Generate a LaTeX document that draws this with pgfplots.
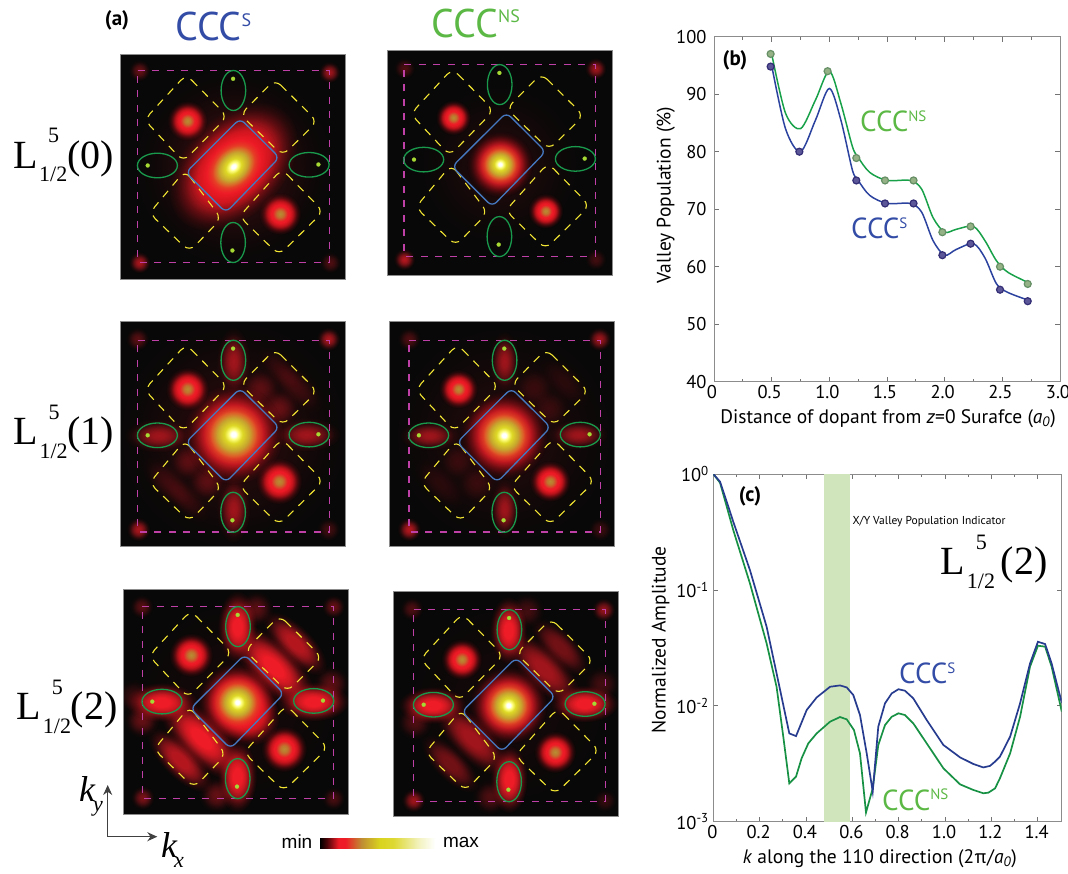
\documentclass[border=0pt]{standalone}
\usepackage{fontspec}
\usepackage{pgfplots}
\usepackage{pgfplotstable}
\pgfplotsset{compat=1.18}
\usetikzlibrary{fadings,arrows.meta}
\setmainfont{PT Sans}
\newfontfamily\tms{Liberation Serif}
\newfontfamily\arial{Liberation Sans}
\definecolor{cS}{rgb}{.2,.3,.65}
\definecolor{cNS}{rgb}{.36,.72,.27}
\definecolor{lS}{rgb}{.17,.26,.62}
\definecolor{lNS}{rgb}{.1,.63,.29}
\definecolor{hred}{rgb}{.93,.11,.15}
\definecolor{h1}{rgb}{1,1,.5}
\definecolor{h2}{rgb}{.87,.85,.15}
\definecolor{h3}{rgb}{.78,.65,.18}
\definecolor{h4}{rgb}{.9,.25,.15}
\definecolor{h5}{rgb}{.8,.06,.1}
\definecolor{h6}{rgb}{.5,.02,.04}
\definecolor{s1}{rgb}{.72,.55,.2}
\definecolor{s2}{rgb}{.75,.45,.18}
\definecolor{s3}{rgb}{.9,.08,.12}
\definecolor{s4}{rgb}{.5,.03,.05}
\definecolor{r1}{rgb}{.7,.05,.08}
\definecolor{b1}{rgb}{.3,.02,.03}
\definecolor{b2}{rgb}{.75,.55,.2}
\definecolor{b3}{rgb}{.85,.83,.12}
\definecolor{b4}{rgb}{.87,.85,.2}
\definecolor{b5}{rgb}{.95,.95,.75}
\definecolor{cmag}{rgb}{.75,.25,.65}
\definecolor{cyel}{rgb}{.95,.9,.2}
\definecolor{cblu}{rgb}{.27,.47,.75}
\definecolor{cgrn}{rgb}{.1,.6,.3}
\definecolor{cdot}{rgb}{.65,.85,.2}
\definecolor{mNSf}{rgb}{.58,.7,.52}
\definecolor{mNSd}{rgb}{.4,.56,.4}
\definecolor{mSf}{rgb}{.36,.34,.6}
\definecolor{mSd}{rgb}{.2,.18,.46}
\definecolor{band}{rgb}{.82,.9,.74}
\pgfdeclareradialshading{hotS}{\pgfpointorigin}{color(0bp)=(white);color(1.2bp)=(white);color(2.5bp)=(h1);color(4.5bp)=(h2);color(8bp)=(h3);color(12bp)=(h4);color(15bp)=(hred);color(20bp)=(h5);color(25bp)=(h6);color(50bp)=(h6)}
\pgfdeclareradialshading{sideS}{\pgfpointorigin}{color(0bp)=(s1);color(4bp)=(s2);color(9bp)=(hred);color(16bp)=(s3);color(25bp)=(s4);color(50bp)=(s4)}
\pgfdeclareradialshading{redS}{\pgfpointorigin}{color(0bp)=(hred);color(14bp)=(hred);color(25bp)=(r1);color(50bp)=(r1)}
\pgfdeclareradialshading{fadePs}{\pgfpointorigin}{color(0bp)=(pgftransparent!0);color(11bp)=(pgftransparent!0);color(14bp)=(pgftransparent!15);color(16.5bp)=(pgftransparent!37);color(19bp)=(pgftransparent!62);color(22bp)=(pgftransparent!86);color(25bp)=(pgftransparent!100);color(50bp)=(pgftransparent!100)}
\pgfdeclarefading{fadeP}{\pgfuseshading{fadePs}}
\pgfdeclareradialshading{fadeMs}{\pgfpointorigin}{color(0bp)=(pgftransparent!0);color(6bp)=(pgftransparent!0);color(10bp)=(pgftransparent!15);color(14bp)=(pgftransparent!40);color(18bp)=(pgftransparent!68);color(22bp)=(pgftransparent!90);color(25bp)=(pgftransparent!100);color(50bp)=(pgftransparent!100)}
\pgfdeclarefading{fadeM}{\pgfuseshading{fadeMs}}
\pgfdeclareradialshading{fadeGs}{\pgfpointorigin}{color(0bp)=(pgftransparent!0);color(5bp)=(pgftransparent!8);color(10bp)=(pgftransparent!30);color(15bp)=(pgftransparent!60);color(20bp)=(pgftransparent!88);color(25bp)=(pgftransparent!100);color(50bp)=(pgftransparent!100)}
\pgfdeclarefading{fadeG}{\pgfuseshading{fadeGs}}
\pgfdeclarehorizontalshading{hotbar}{100bp}{color(0bp)=(black);color(25bp)=(black);color(28bp)=(b1);color(33bp)=(hred);color(36bp)=(hred);color(43bp)=(b2);color(51bp)=(b3);color(57bp)=(b4);color(68bp)=(b5);color(75bp)=(white);color(100bp)=(white)}
\pgfdeclareplotmark{hot}{\pgflowlevelsynccm\path[shade,shading=hotS,path fading=fadeP] (0pt,0pt) circle (\pgfplotmarksize);}
\pgfdeclareplotmark{side}{\pgflowlevelsynccm\path[shade,shading=sideS,path fading=fadeP] (0pt,0pt) circle (\pgfplotmarksize);}
\pgfdeclareplotmark{redb}{\pgflowlevelsynccm\path[shade,shading=redS,path fading=fadeP] (0pt,0pt) circle (\pgfplotmarksize);}
\pgfdeclareplotmark{redm}{\pgflowlevelsynccm\path[shade,shading=redS,path fading=fadeM] (0pt,0pt) circle (\pgfplotmarksize);}
\pgfdeclareplotmark{redg}{\pgflowlevelsynccm\path[shade,shading=redS,path fading=fadeG] (0pt,0pt) circle (\pgfplotmarksize);}
\pgfdeclareplotmark{ellV}{\pgfpathellipse{\pgfpointorigin}{\pgfqpoint{12.3pt}{0pt}}{\pgfqpoint{0pt}{20pt}}\pgfusepathqstroke}
\pgfdeclareplotmark{ellH}{\pgfpathellipse{\pgfpointorigin}{\pgfqpoint{20pt}{0pt}}{\pgfqpoint{0pt}{12.3pt}}\pgfusepathqstroke}
\newcommand\blob[5][]{\addplot[only marks,mark=#2,mark size=#5,mark options={#1}] coordinates {(#3,#4)};}
\pgfplotsset{
 panel/.style={scale only axis,width=225pt,height=225pt,anchor=south west,
  xmin=0,xmax=225,ymin=0,ymax=225,y dir=reverse,ticks=none,axis on top,
  axis line style={draw=black!45,line width=.7pt},clip marker paths=true,
  axis background/.style={fill=black!97}},
 ovl/.style={scale only axis,width=225pt,height=225pt,anchor=south west,
  xmin=0,xmax=225,ymin=0,ymax=225,y dir=reverse,hide axis,clip=false},
 chart/.style={scale only axis,anchor=south west,tick align=inside,
  axis line style={draw=black!45,line width=.8pt},
  tick style={draw=black!55,line width=.7pt},major tick length=5pt,minor tick length=3pt,
  tick label style={font=\fontsize{18.5}{18.5}\selectfont},
  label style={font=\fontsize{19.5}{19.5}\selectfont,inner sep=0pt},
  clip=true}
}
\pgfplotstableread{
x y
17.3 16
208.7 16
208.7 207.7
17.3 207.7
}\tmag
\pgfplotstableread{
x y
119.7 64
159 103
105.5 158
65.5 118
}\tblu
\pgfplotstableread{
x y
65.7 20
107 62
63 107
24 65.3
}\yTL
\pgfplotstableread{
x y
154.7 25
197 67
162.3 101
120 60
}\yTR
\pgfplotstableread{
x y
64.7 116
101 164
69 197
29 158.7
}\yBL
\pgfplotstableread{
x y
161.3 114.5
203 157
158.7 200.5
119 162
}\yBR
\newcommand\ovlay[2]{%
\begin{axis}[ovl,at={(#1pt,#2pt)}]
 \addplot[line width=1.2pt,color=cmag,dash pattern=on 7pt off 7.5pt,no marks] table {\tmag} -- cycle;
 \addplot[line width=1.1pt,color=cyel,rounded corners=8pt,dash pattern=on 8pt off 7pt,no marks] table {\yTL} -- cycle;
 \addplot[line width=1.1pt,color=cyel,rounded corners=8pt,dash pattern=on 8pt off 7pt,no marks] table {\yTR} -- cycle;
 \addplot[line width=1.1pt,color=cyel,rounded corners=8pt,dash pattern=on 8pt off 7pt,no marks] table {\yBL} -- cycle;
 \addplot[line width=1.1pt,color=cyel,rounded corners=8pt,dash pattern=on 8pt off 7pt,no marks] table {\yBR} -- cycle;
 \addplot[line width=1.3pt,color=cblu,rounded corners=6pt,no marks] table {\tblu} -- cycle;
 \addplot[only marks,mark=ellV,mark options={draw=cgrn,line width=1.3pt}] coordinates {(113,36)(112.7,188)};
 \addplot[only marks,mark=ellH,mark options={draw=cgrn,line width=1.3pt}] coordinates {(37,111)(188.7,110.3)};
 \addplot[only marks,mark=*,mark size=2pt,mark options={draw=cdot,fill=cdot,line width=.2pt}] coordinates {(112.7,24.3)(112,196)(27.3,111)(198,110)};
\end{axis}}
\newcommand\Lab[2][0pt]{{\tms\fontsize{40}{40}\selectfont L\kern1.6pt\rlap{\raisebox{25.3pt}{\kern9pt\fontsize{22}{22}\selectfont 5}}\raisebox{-13.4pt}{\fontsize{22}{22}\selectfont 1/2}\kern-.3pt\kern#1(#2)}}
\newcommand\CCC[3][52]{{\fontsize{#2}{#2}\selectfont CCC\raisebox{.36em}{\fontsize{\numexpr#2*#1/100\relax}{10}\selectfont #3}}}
\newcommand\fs[1]{\fontsize{#1}{#1}\selectfont}
\begin{document}
\begin{tikzpicture}[x=1pt,y=1pt]
\path[use as bounding box] (0,0) rectangle (1068,873);
% ---------- P1
\begin{axis}[panel,at={(120.4pt,593.5pt)}]
 \blob[opacity=.2]{redg}{113}{112}{105}
 \blob[opacity=.4]{redg}{19}{16}{11}\blob[opacity=.65]{redg}{209}{17.7}{11}\blob[opacity=.7]{redg}{19}{208}{11}\blob[opacity=.3]{redg}{209.7}{208}{11}
 \blob{side}{67}{66.3}{20}\blob{side}{159.7}{159.3}{21}
 \blob[rotate=45,yscale=.66]{redb}{113}{112}{76}
 \blob[rotate=45,yscale=.75]{hot}{113}{112}{50}
\end{axis}
\ovlay{120.4}{593.5}
% ---------- P2
\begin{axis}[panel,at={(387.3pt,597.7pt)}]
 \blob[opacity=.1]{redg}{112}{114}{90}
 \blob[opacity=.3]{redg}{17}{18}{11}\blob[opacity=.65]{redg}{208.3}{18.3}{11}\blob[opacity=.75]{redg}{17}{209}{11}\blob[opacity=.25]{redg}{208.3}{209}{11}
 \blob{side}{66}{67.3}{17.5}\blob{side}{158.3}{160.7}{17.5}
 \blob{hot}{112.7}{114}{33}
\end{axis}
\ovlay{386.7}{599.4}
% ---------- P3
\begin{axis}[panel,at={(120.4pt,326.7pt)}]
 \blob[opacity=.14]{redg}{113}{113}{125}
 \blob[opacity=.35]{redg}{17}{17.7}{12}\blob[opacity=.7]{redg}{208}{17.7}{12}\blob[opacity=.7]{redg}{18}{208}{12}\blob[opacity=.25]{redg}{208}{208}{12}
 \blob[opacity=.3]{redg}{139.7}{66.7}{20}\blob[opacity=.35]{redg}{158.7}{86.7}{20}\blob[rotate=-45,yscale=.5,opacity=.2]{redg}{176}{65}{34}\blob[rotate=-45,yscale=.5,opacity=.15]{redg}{160}{48}{30}
 \blob[opacity=.3]{redg}{86.3}{160}{20}\blob[opacity=.3]{redg}{67}{140}{19}\blob[rotate=-45,yscale=.5,opacity=.2]{redg}{48}{161.7}{34}\blob[rotate=-45,yscale=.5,opacity=.15]{redg}{66}{178}{30}
 \blob[rotate=90,yscale=.5,opacity=.65]{redg}{113}{40}{34}\blob[rotate=90,yscale=.5,opacity=.65]{redg}{113}{188}{34}
 \blob[yscale=.5,opacity=.65]{redg}{38}{114.3}{34}\blob[yscale=.5,opacity=.65]{redg}{186.3}{113.3}{34}
 \blob{side}{67}{67.7}{21.5}\blob{side}{158.7}{160}{23}
 \blob{hot}{113}{113}{50}
\end{axis}
\ovlay{120.4}{323.7}
% ---------- P4
\begin{axis}[panel,at={(389.3pt,326.7pt)}]
 \blob[opacity=.1]{redg}{114}{114}{125}
 \blob[opacity=.3]{redg}{19.7}{17.7}{12}\blob[opacity=.65]{redg}{210}{17.7}{12}\blob[opacity=.75]{redg}{19.7}{208}{12}\blob[opacity=.22]{redg}{210.7}{208}{12}
 \blob[opacity=.16]{redg}{145}{66}{20}\blob[opacity=.16]{redg}{160}{87}{20}\blob[rotate=-45,yscale=.5,opacity=.12]{redg}{175}{60}{34}
 \blob[opacity=.16]{redg}{87}{162}{20}\blob[opacity=.16]{redg}{68}{140}{19}\blob[rotate=-45,yscale=.5,opacity=.12]{redg}{50}{162}{34}
 \blob[rotate=90,yscale=.5,opacity=.65]{redg}{115}{40}{30}\blob[rotate=90,yscale=.5,opacity=.65]{redg}{115}{187.7}{30}
 \blob[yscale=.5,opacity=.65]{redg}{40}{114.3}{30}\blob[yscale=.5,opacity=.65]{redg}{189}{113.3}{30}
 \blob{side}{69}{67.7}{19.5}\blob{side}{160.7}{160}{20.5}
 \blob{hot}{114.7}{114}{44}
\end{axis}
\ovlay{391.6}{323.7}
% ---------- P5
\begin{axis}[panel,at={(123.3pt,58.7pt)}]
 \blob[opacity=.06]{redg}{113}{113}{125}
 \blob[opacity=.35]{redg}{18.3}{17.3}{12}\blob[opacity=.4]{redg}{210}{17.3}{12}\blob[opacity=.5]{redg}{19.3}{208.3}{12}\blob[opacity=.28]{redg}{210}{209}{12}
 \blob[opacity=.35]{redg}{208}{94}{18}\blob[opacity=.4]{redg}{18.3}{130.7}{18}\blob[opacity=.35]{redg}{132.7}{19}{18}\blob[opacity=.4]{redg}{93.3}{205.7}{18}\blob[opacity=.2]{redg}{10}{107}{18}
 \blob[rotate=-45,yscale=.42,opacity=.75]{redm}{171.7}{54}{42}\blob[rotate=-45,yscale=.42,opacity=.75]{redm}{56.7}{170.7}{42}
 \blob[rotate=-45,yscale=.44]{redm}{150}{77.3}{54}\blob[rotate=-45,yscale=.44]{redm}{78}{149}{54}
 \blob[rotate=90,yscale=.55]{redm}{114}{37.3}{36}\blob[rotate=90,yscale=.55]{redm}{114}{187.3}{36}
 \blob[yscale=.55]{redm}{38.3}{113}{36}\blob[yscale=.55]{redm}{190}{112.3}{36}
 \blob{side}{67.7}{65.7}{22}\blob{side}{160.7}{159.7}{23}
 \blob[rotate=-45,yscale=.8]{redb}{120}{120}{40}
 \blob{hot}{114}{113}{40}
\end{axis}
\ovlay{125}{57.4}
% ---------- P6
\begin{axis}[panel,at={(393.7pt,57pt)}]
 \blob[opacity=.05]{redg}{113}{113}{125}
 \blob[opacity=.3]{redg}{18}{17.7}{12}\blob[opacity=.6]{redg}{209.7}{18.7}{12}\blob[opacity=.65]{redg}{19.7}{209.3}{12}\blob[opacity=.2]{redg}{211}{209.3}{12}
 \blob[opacity=.3]{redg}{20.7}{131}{18}\blob[opacity=.25]{redg}{208}{92.7}{18}\blob[opacity=.25]{redg}{133}{19.3}{18}\blob[opacity=.3]{redg}{96.3}{206}{18}
 \blob[rotate=-45,yscale=.42,opacity=.45]{redm}{166.3}{56}{38}\blob[rotate=-45,yscale=.42,opacity=.45]{redm}{56.3}{172.7}{38}
 \blob[rotate=-45,yscale=.42,opacity=.65]{redm}{149.7}{77.7}{48}\blob[rotate=-45,yscale=.42,opacity=.65]{redm}{78}{147.7}{48}
 \blob[rotate=90,yscale=.55]{redm}{114.7}{39.3}{34}\blob[rotate=90,yscale=.55]{redm}{115.3}{188.3}{34}
 \blob[yscale=.55]{redm}{38.7}{114.3}{34}\blob[yscale=.55]{redm}{190.7}{112.7}{34}
 \blob{side}{68}{68.3}{20.5}\blob{side}{161.3}{161}{21}
 \blob{hot}{114.7}{114.3}{39}
\end{axis}
\ovlay{396.4}{54.3}
% ---------- (b)
\begin{axis}[chart,at={(714pt,491.3pt)},width=346pt,height=345pt,
 xmin=0,xmax=3,ymin=40,ymax=100,
 xtick={0,.5,1,1.5,2,2.5,3},xticklabels={0,0.5,1.0,1.5,2.0,2.5,3.0},minor x tick num=1,
 ytick={40,50,60,70,80,90,100},yticklabels={40,50,60,70,80,90,100},
 xticklabel style={xshift=-2pt},yticklabel style={xshift=-4pt},
 xlabel={Distance of dopant from \textit{z}=0 Surafce (\textit{a}\textsubscript{\textit{0}})},
 ylabel={Valley Population (\%)},
 xlabel style={at={(axis description cs:.503,-.108)},anchor=center},
 ylabel style={at={(axis description cs:-.139,.541)},anchor=center},
 clip=false]
 \addplot[lNS,line width=1.5pt,smooth,tension=.5,no marks] table {
 x y
 .5 97
 .62 86.7
 .75 84
 .88 89
 1 94
 1.1 88.4
 1.2 80.9
 1.25 79
 1.35 76.4
 1.5 75
 1.7 75
 1.8 73.5
 1.9 68.5
 2 66
 2.1 66.5
 2.25 67
 2.35 64.5
 2.45 61
 2.55 59
 2.75 57
 };
 \addplot[lS,line width=1.5pt,smooth,tension=.5,no marks] table {
 x y
 .5 95
 .62 84
 .75 80
 .88 85.5
 1 91
 1.1 85.5
 1.2 76.8
 1.25 75
 1.35 72.4
 1.5 71
 1.7 71
 1.8 69.5
 1.9 64.5
 2 62
 2.1 63
 2.25 64
 2.35 61.5
 2.45 57
 2.55 55.5
 2.75 54
 };
 \addplot[only marks,mark=*,mark size=3.5pt,mark options={fill=mNSf,draw=mNSd,line width=1.2pt}] table {
 x y
 .491 97
 .985 94
 1.234 78.9
 1.483 75
 1.73 75
 1.98 66
 2.225 67
 2.48 60
 2.72 57
 };
 \addplot[only marks,mark=*,mark size=3.5pt,mark options={fill=mSf,draw=mSd,line width=1.2pt}] table {
 x y
 .491 94.8
 .74 80
 1.234 75
 1.483 71
 1.73 71
 1.98 62
 2.225 64
 2.48 56
 2.72 54
 };
\end{axis}
% ---------- (c)
\begin{axis}[chart,at={(713.3pt,51.3pt)},width=348.4pt,height=347.7pt,ymode=log,
 xmin=0,xmax=1.5036,ymin=.001,ymax=1,
 xtick={0,.2,.4,.6,.8,1,1.2,1.4},xticklabels={0,0.2,0.4,0.6,0.8,1.0,1.2,1.4},minor x tick num=1,
 ytick={1,.1,.01,.001},yticklabels={10\textsuperscript{0},10\textsuperscript{-1},10\textsuperscript{-2},10\textsuperscript{-3}},
 xticklabel style={xshift=-1pt},yticklabel style={xshift=-1pt},
 xlabel={\textit{k} along the 110 direction (2π/\textit{a}\textsubscript{\textit{0}})},
 ylabel={Normalized Amplitude},
 xlabel style={at={(axis description cs:.478,-.107)},anchor=center},
 ylabel style={at={(axis description cs:-.151,.523)},anchor=center}]
 \addplot[draw=none,fill=band] coordinates {(.479,.001)(.59,.001)(.59,1)(.479,1)} -- cycle;
 \addplot[lNS!90!black,line width=1.7pt,no marks] table {
 x y
 0 1
 .029 .841
 .058 .523
 .086 .329
 .158 .114
 .230 .0346
 .273 .0146
 .302 .00542
 .328 .00214
 .357 .00245
 .381 .00352
 .410 .00474
 .446 .00578
 .504 .00730
 .547 .00800
 .576 .00764
 .607 .00618
 .633 .00389
 .659 .00120
 .688 .00194
 .712 .00459
 .741 .00682
 .770 .00805
 .799 .00861
 .827 .00833
 .863 .00706
 .921 .00474
 .993 .00289
 1.065 .00210
 1.122 .00188
 1.165 .00176
 1.187 .00178
 1.216 .00194
 1.237 .00237
 1.281 .00389
 1.324 .00805
 1.367 .0218
 1.401 .0330
 1.432 .0324
 1.460 .0218
 1.504 .00890
 };
 \addplot[lS!90!black,line width=1.7pt,no marks] table {
 x y
 0 1
 .029 .859
 .058 .577
 .086 .388
 .158 .1485
 .230 .0482
 .273 .0191
 .328 .00578
 .357 .00548
 .403 .00920
 .446 .0118
 .504 .0146
 .547 .0150
 .576 .0144
 .604 .0124
 .633 .00833
 .662 .00389
 .688 .00182
 .712 .00661
 .741 .0105
 .770 .0128
 .799 .0139
 .827 .0135
 .863 .0116
 .921 .00754
 .993 .00459
 1.065 .00359
 1.122 .00315
 1.165 .00294
 1.194 .00303
 1.216 .00330
 1.237 .00364
 1.281 .00542
 1.324 .0105
 1.367 .0232
 1.401 .0357
 1.432 .0341
 1.460 .0232
 1.504 .0106
 };
\end{axis}
% ---------- colour bar
\begin{axis}[scale only axis,at={(320pt,25pt)},anchor=south west,width=115pt,height=10pt,hide axis,xmin=0,xmax=1,ymin=0,ymax=1]
 \addplot[shade,shading=hotbar,draw=none] coordinates {(0,0)(1,0)(1,1)(0,1)} -- cycle;
\end{axis}
% ---------- text
\node[anchor=center,inner sep=0] at (297,31) {\arial\fs{19}min};
\node[anchor=center,inner sep=0] at (461,31) {\arial\fs{19}max};
\node[anchor=center,inner sep=0] at (117,853) {\fs{21}\bfseries (a)};
\node[anchor=center,inner sep=0] at (735,813) {\fs{21}\bfseries (b)};
\node[anchor=center,inner sep=0] at (750,377) {\fs{21}\bfseries (c)};
\node[anchor=base west,inner sep=0,text=cS] at (175,832.3) {\CCC[46]{40}{S}};
\node[anchor=base west,inner sep=0,text=cNS] at (431.5,835.7) {\CCC[46]{40}{NS}};
\node[anchor=base west,inner sep=0,text=cNS] at (860,741) {\CCC{29}{NS}};
\node[anchor=base west,inner sep=0,text=cS] at (851,634) {\CCC{29}{S}};
\node[anchor=base west,inner sep=0,text=cS] at (899,189) {\CCC{29}{S}};
\node[anchor=base west,inner sep=0,text=cNS] at (882,63) {\CCC{29}{NS}};
\node[anchor=base west,inner sep=0] at (13,704.7) {\Lab{0}};
\node[anchor=base west,inner sep=0] at (13.3,428) {\Lab{1}};
\node[anchor=base west,inner sep=0] at (16.7,153) {\Lab{2}};
\node[anchor=base west,inner sep=0] at (940.7,298) {\Lab[6pt]{2}};
\node[anchor=center,inner sep=0,font=\fs{11.5}] at (929,351) {X/Y Valley Population Indicator};
% k axes
\draw[black!75,line width=1.1pt,-{Stealth[length=10pt,width=9pt]}] (107.7,36.3) -- (107.7,88);
\draw[black!75,line width=1.1pt,-{Stealth[length=10pt,width=9pt]}] (107.7,36.3) -- (157.3,36.3);
\node[anchor=base west,inner sep=0] at (79,72) {\tms\itshape\fs{36}k};
\node[anchor=base west,inner sep=0] at (93,62) {\tms\itshape\fs{22}y};
\node[anchor=base west,inner sep=0] at (161,16) {\tms\itshape\fs{36}k};
\node[anchor=base west,inner sep=0] at (174,6) {\tms\itshape\fs{22}x};
\end{tikzpicture}
\end{document}
